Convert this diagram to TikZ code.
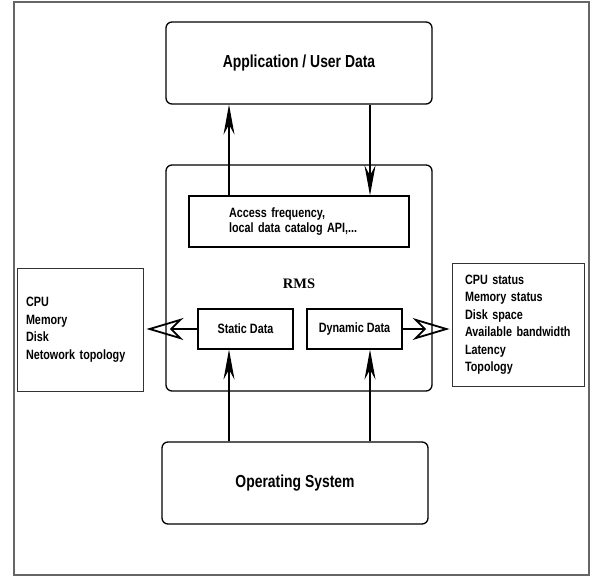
\documentclass[tikz,border=0pt]{standalone}
\usepackage{fontspec}
\setmainfont{Liberation Sans}[FakeStretch=0.8]
\newfontfamily\rmsfont{Liberation Serif}
\usetikzlibrary{arrows.meta}

\begin{document}
\begin{tikzpicture}[x=1pt,y=-1pt]

\tikzset{block/.style = {draw,rounded corners=6pt,line width=1.3pt,minimum width=266pt,minimum height=82pt,font=\fontsize{17.4}{20}\selectfont\bfseries}}
\tikzset{part/.style = {draw,line width=1.2pt,minimum width=95pt,minimum height=40pt,font=\fontsize{13.5}{15.5}\selectfont\bfseries}}
\tikzset{list/.style = {draw=black!80,line width=0.9pt,align=left,minimum height=123pt,font=\fontsize{13.5}{17.5}\selectfont\bfseries}}
\tikzset{flow/.style = {-{Stealth[length=30pt,width=11pt,inset=10pt]},line width=1.1pt}}
\tikzset{feed/.style = {-{Stealth[open,length=37pt,width=22pt,inset=11pt,line width=1.8pt]},line width=2.6pt}}

\useasboundingbox (0,0) rectangle (593,577);
\draw[black!60,line width=1.3pt] (14,2) rectangle (589,575);

\node[block] (app) at (299,63) {Application / User Data};
\node[block,minimum height=226pt] (rms) at (299,278) {};
\node[block] (os) at (295,483) {Operating System};

\node[font=\rmsfont\fontsize{14.5}{16}\selectfont\bfseries] (rmslabel) at (299,284) {RMS};

\node[part,minimum width=220pt,minimum height=51pt,text width=140pt,inner xsep=40pt,align=left] (access) at (299,221.5) {Access frequency,\\ local data catalog API,...};
\node[part] (static) at (245.5,329) {Static Data};
\node[part] (dynamic) at (354.5,329) {Dynamic Data};

\node[list,text width=108pt,inner xsep=9pt] (hw) at (80,329.5) {CPU\\ Memory\\ Disk\\ Netowork topology};
\node[list,text width=106pt,inner xsep=13pt] (net) at (518,324.5) {CPU status\\ Memory status\\ Disk space\\ Available bandwidth\\ Latency\\ Topology};

\coordinate (lane1) at (229,0);
\coordinate (lane2) at (370,0);

\draw[flow] (access.north -| lane1) -- (app.south -| lane1);
\draw[flow] (app.south -| lane2) -- (access.north -| lane2);
\draw[flow] (os.north -| lane1) -- (static.south -| lane1);
\draw[flow] (os.north -| lane2) -- (dynamic.south -| lane2);

\draw[feed,shorten >=3pt] (static.west) -- (hw.east |- static.west);
\draw[feed,shorten >=2pt] (dynamic.east) -- (net.west |- dynamic.east);

\end{tikzpicture}
\end{document}
